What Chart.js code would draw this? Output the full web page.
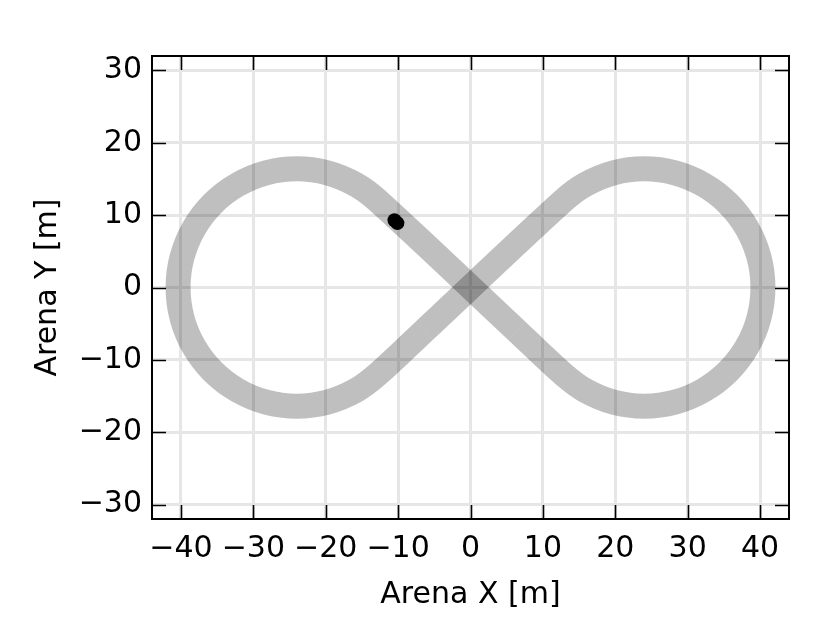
<!DOCTYPE html>
<html>
<head>
<meta charset="utf-8">
<title>Arena track</title>
<script src="https://cdn.jsdelivr.net/npm/chart.js@4/dist/chart.umd.min.js"></script>
<style>
  html, body { margin: 0; padding: 0; background: #fff; }
  #wrap { width: 830px; height: 631px; }
</style>
</head>
<body>
<div id="wrap"><canvas id="arenaChart" width="830" height="631"></canvas></div>
<script>
// track centre line, [x, y] in metres
const leftLoop = [
  [-12.8, 11.98], [-15.8, 14.2], [-19.76, 15.84], [-24, 16.4],
  [-28.24, 15.84], [-32.2, 14.2], [-35.6, 11.6], [-38.2, 8.2],
  [-39.84, 4.24], [-40.4, 0], [-39.84, -4.24], [-38.2, -8.2], [-35.6, -11.6],
  [-32.2, -14.2], [-28.24, -15.84], [-24, -16.4],
  [-19.76, -15.84], [-15.8, -14.2], [-12.8, -11.98]
];
const rightLoop = [
  [12.8, 11.98], [15.8, 14.2], [19.76, 15.84], [24, 16.4],
  [28.24, 15.84], [32.2, 14.2], [35.6, 11.6], [38.2, 8.2],
  [39.84, 4.24], [40.4, 0], [39.84, -4.24], [38.2, -8.2], [35.6, -11.6],
  [32.2, -14.2], [28.24, -15.84], [24, -16.4],
  [19.76, -15.84], [15.8, -14.2], [12.8, -11.98]
];
// where the two halves of the track meet, on the lower straights
const lowerLeftJoin = [-6.4, -5.99];
const lowerRightJoin = [6.4, -5.99];

// vehicle position
const vehicleX = [-10.5, -10.1];
const vehicleY = [9.3, 8.9];

// axes
const xMin = -44, xMax = 44;
const yMin = -32, yMax = 32;
const tickStep = 10;

// each half crosses the middle on its own straight, so the crossing shows darker
const leftHalf = [lowerRightJoin, ...leftLoop, lowerLeftJoin];
const rightHalf = [lowerLeftJoin, ...rightLoop, lowerRightJoin];

const FONT = "'DejaVu Sans', sans-serif";

function minusLabel(value) {
  return value < 0 ? "\u2212" + Math.abs(value) : String(value);
}

function trackDataset(piece) {
  return {
    data: piece.map(p => ({ x: p[0], y: p[1] })),
    showLine: true,
    borderColor: "rgba(0, 0, 0, 0.25)",
    borderWidth: 25,
    borderCapStyle: "butt",
    borderJoinStyle: "round",
    tension: 0.34,
    pointRadius: 0,
    order: 1
  };
}

// frame and inward ticks on all four sides
const frameTicks = {
  id: "frameTicks",
  afterDraw(chart) {
    const { ctx, chartArea: a, scales: { x, y } } = chart;
    const len = 14;
    ctx.save();
    ctx.strokeStyle = "#000";
    ctx.lineWidth = 1.6;
    ctx.beginPath();
    x.ticks.forEach(t => {
      const px = Math.round(x.getPixelForValue(t.value)) + 0.5;
      ctx.moveTo(px, a.bottom);
      ctx.lineTo(px, a.bottom - len);
      ctx.moveTo(px, a.top);
      ctx.lineTo(px, a.top + len);
    });
    y.ticks.forEach(t => {
      const py = Math.round(y.getPixelForValue(t.value)) + 0.5;
      ctx.moveTo(a.left, py);
      ctx.lineTo(a.left + len, py);
      ctx.moveTo(a.right, py);
      ctx.lineTo(a.right - len, py);
    });
    ctx.stroke();
    ctx.lineWidth = 2;
    ctx.strokeRect(a.left, a.top, a.right - a.left, a.bottom - a.top);
    ctx.restore();
  }
};

new Chart(document.getElementById("arenaChart"), {
  type: "scatter",
  data: {
    datasets: [
      {
        data: vehicleX.map((vx, i) => ({ x: vx, y: vehicleY[i] })),
        backgroundColor: "#000",
        borderColor: "#000",
        pointRadius: 7,
        borderWidth: 0,
        order: 0
      },
      trackDataset(leftHalf),
      trackDataset(rightHalf)
    ]
  },
  options: {
    responsive: false,
    animation: false,
    events: [],
    layout: {
      padding: { top: 56, right: 41, bottom: 0, left: 0 }
    },
    scales: {
      x: {
        type: "linear",
        min: xMin,
        max: xMax,
        afterFit: scale => { scale.height = 112; },
        border: { display: false },
        grid: { color: "#e6e6e6", lineWidth: 3, drawTicks: false },
        ticks: {
          stepSize: tickStep,
          includeBounds: false,
          padding: 12,
          color: "#000",
          font: { family: FONT, size: 30 },
          maxRotation: 0,
          callback: minusLabel
        },
        title: {
          display: true,
          text: "Arena X [m]",
          color: "#000",
          font: { family: FONT, size: 30 },
          padding: { top: 0, bottom: 18 }
        }
      },
      y: {
        type: "linear",
        min: yMin,
        max: yMax,
        afterFit: scale => { scale.width = 152; },
        border: { display: false },
        grid: { color: "#e6e6e6", lineWidth: 3, drawTicks: false },
        ticks: {
          stepSize: tickStep,
          includeBounds: false,
          padding: 10,
          color: "#000",
          font: { family: FONT, size: 30 },
          callback: minusLabel
        },
        title: {
          display: true,
          text: "Arena Y [m]",
          color: "#000",
          font: { family: FONT, size: 30 },
          padding: { top: 30, bottom: 0 }
        }
      }
    },
    plugins: {
      legend: { display: false },
      tooltip: { enabled: false }
    }
  },
  plugins: [frameTicks]
});
</script>
</body>
</html>
